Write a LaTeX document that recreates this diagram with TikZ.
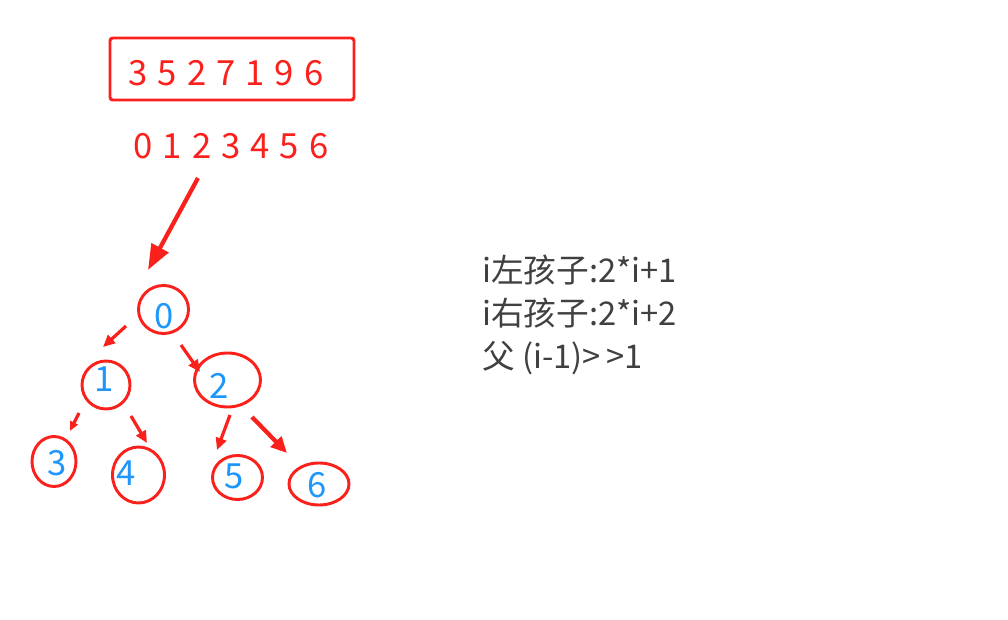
\documentclass[tikz,border=0pt]{standalone}
\usepackage{fontspec}
\setmainfont{Noto Sans CJK SC}
\usetikzlibrary{shapes.geometric,arrows.meta}
\definecolor{penred}{RGB}{250,32,28}
\definecolor{numblue}{RGB}{30,150,250}
\definecolor{notegray}{RGB}{64,64,64}

\begin{document}
\begin{tikzpicture}
[
x=0.75pt, y=-0.75pt,
treenode/.style={ellipse, draw=penred, line width=2.2pt, inner sep=0pt},
numnode/.style={text=numblue, inner sep=0pt, font=\fontsize{26}{30}\selectfont},
rednum/.style={text=penred, inner sep=0pt, font=\fontsize{26}{30}\selectfont, execute at begin node={\spaceskip=7.5pt\relax}},
arraybox/.style={rectangle, draw=penred, line width=2.2pt, rounded corners=2pt, minimum width=183pt, minimum height=46.5pt},
redarrow/.style={penred, line width=2.4pt, -{Triangle[length=9pt, width=8pt]}},
]
\useasboundingbox (0,0) rectangle (1008,620);

%Nodes
\node[arraybox] (box) at (232,69) {};
\node[rednum] (vals) at (226,73) {3 5 2 7 1 9 6};
\node[rednum] (idx) at (231,146) {0 1 2 3 4 5 6};

\node[treenode, minimum width=37.5pt, minimum height=36pt] (n0) at (163.5,309.5) {};
\node[treenode, minimum width=36pt, minimum height=36pt] (n1) at (106,385) {};
\node[treenode, minimum width=49.5pt, minimum height=40.5pt] (n2) at (227.5,380) {};
\node[treenode, minimum width=33pt, minimum height=37.5pt] (n3) at (54,461.5) {};
\node[treenode, minimum width=39pt, minimum height=42pt] (n4) at (138.5,475) {};
\node[treenode, minimum width=37.5pt, minimum height=33pt] (n5) at (237.5,477.5) {};
\node[treenode, minimum width=45pt, minimum height=31.5pt] (n6) at (319,484) {};

\node[numnode] (d0) at (164,316.5) {0};
\node[numnode] (d1) at (104,379) {1};
\node[numnode] (d2) at (219,386) {2};
\node[numnode] (d3) at (57,463) {3};
\node[numnode] (d4) at (126,473) {4};
\node[numnode] (d5) at (234,476) {5};
\node[numnode] (d6) at (317,485) {6};

\node[anchor=west, align=left, inner sep=0pt, text=notegray, font=\fontsize{24.5}{32}\selectfont] (rule) at (482,315) {i左孩子:2*i+1\\i右孩子:2*i+2\\父 (i-1){>}\,{>}1};

%Arrow ends
\coordinate (top) at (198,178);
\coordinate (root) at (148,270);
\coordinate (s01) at (126,326);
\coordinate (e01) at (103,347);
\coordinate (s02) at (181,345);
\coordinate (e02) at (200,372);
\coordinate (s13) at (79,413);
\coordinate (e13) at (70,431);
\coordinate (s14) at (131,416);
\coordinate (e14) at (147,443);
\coordinate (s25) at (230,415);
\coordinate (e25) at (217,450);
\coordinate (s26) at (252,417);
\coordinate (e26) at (287,453);

%Lines
\draw[redarrow, line width=3.2pt, -{Triangle[length=19pt, width=14pt]}] (top) -- (root);
\draw[redarrow] (s01) -- (e01);
\draw[redarrow] (s02) -- (e02);
\draw[redarrow, -{Triangle[length=7pt, width=6pt]}] (s13) -- (e13);
\draw[redarrow] (s14) -- (e14);
\draw[redarrow] (s25) -- (e25);
\draw[redarrow, line width=3.2pt, -{Triangle[length=12pt, width=11pt]}] (s26) -- (e26);
\end{tikzpicture}
\end{document}
